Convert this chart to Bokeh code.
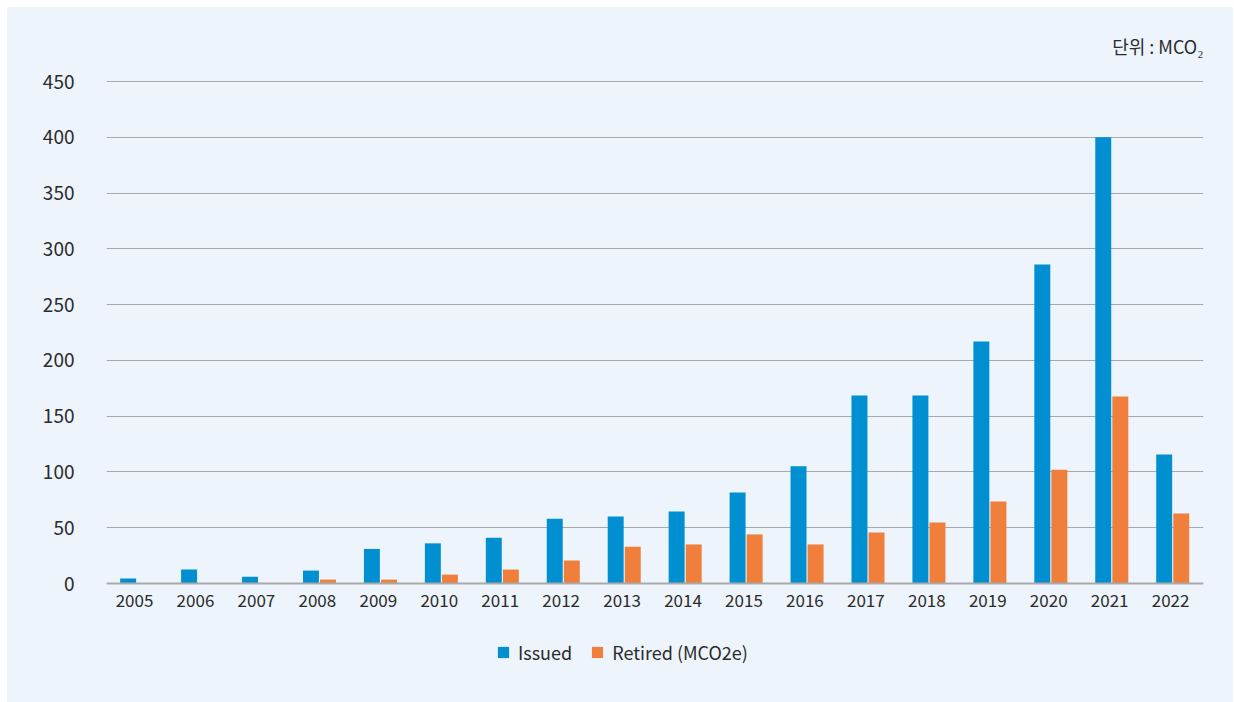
from bokeh.plotting import figure
from bokeh.models import (FactorRange, Range1d, Legend, LegendItem, Label, Span,
                          ColumnDataSource, FixedTicker)
from bokeh.transform import dodge
from bokeh.core.properties import value
from bokeh.embed import file_html
from bokeh.resources import INLINE

years = ["2005", "2006", "2007", "2008", "2009", "2010", "2011", "2012", "2013",
         "2014", "2015", "2016", "2017", "2018", "2019", "2020", "2021", "2022"]
issued = [4.5, 12.5, 6, 11.6, 31, 36, 41, 58, 60, 64.5, 81.5, 105, 168.5, 168.5,
          217, 286, 400, 115.6]
retired = [0, 0, 0, 3.5, 3.5, 8, 12.5, 20.6, 33, 35, 44, 35, 45.7, 54.7, 73.5,
           102, 167.6, 62.7]
y_ticks = [0, 50, 100, 150, 200, 250, 300, 350, 400, 450]
series_names = ["Issued", "Retired (MCO2e)"]
unit_text = "단위 : MCO₂"

BG = "#EDF4FC"
BLUE = "#0090D1"
ORANGE = "#F07F3C"
GRID = "#A9A9A9"
TXT = "#2B2B2B"
FONT = "Noto Sans CJK KR"

src = ColumnDataSource(dict(year=years, issued=issued, retired=retired))

# frame spans full height; 450 units = 502 px
PX = 502 / 450
p = figure(x_range=FactorRange(*years),
           y_range=Range1d(-119 / PX, 450 + 74 / PX),
           width=1226, height=695, output_backend="svg", toolbar_location=None,
           x_axis_location=None,
           min_border_left=99, min_border_right=30, min_border_top=0,
           min_border_bottom=0)
p.margin = (7, 1, 0, 7)
p.styles = {"background-color": BG}
p.background_fill_alpha = 0
p.border_fill_alpha = 0
p.outline_line_color = None

r1 = p.vbar(x=dodge("year", -0.145, range=p.x_range), top="issued", width=0.262,
            source=src, color=BLUE, line_color=None)
r2 = p.vbar(x=dodge("year", 0.135, range=p.x_range), top="retired", width=0.262,
            source=src, color=ORANGE, line_color=None)

# x category labels
p.text(x=dodge("year", -0.04, range=p.x_range), y=0, text="year", source=src,
       y_offset=17, text_align="center", text_baseline="middle",
       text_font=value(FONT), text_font_size="17px", text_color=TXT)

p.xgrid.grid_line_color = None
p.ygrid.grid_line_color = GRID
p.ygrid.grid_line_width = 1

p.add_layout(Span(location=0, dimension="width", line_color=GRID, line_width=2))

p.yaxis.ticker = FixedTicker(ticks=y_ticks)
p.yaxis.axis_line_color = None
p.yaxis.major_tick_line_color = None
p.yaxis.minor_tick_line_color = None
p.yaxis.major_label_standoff = 26
p.yaxis.major_label_text_font = FONT
p.yaxis.major_label_text_font_size = "19px"
p.yaxis.major_label_text_color = TXT

legend = Legend(items=[LegendItem(label=series_names[0], renderers=[r1]),
                       LegendItem(label=series_names[1], renderers=[r2])],
                orientation="horizontal", location=(390, 37))
legend.background_fill_alpha = 0
legend.border_line_color = None
legend.padding = 0
legend.margin = 0
legend.spacing = 18
legend.label_standoff = 8
legend.glyph_width = 14
legend.glyph_height = 14
legend.label_height = 14
legend.label_text_font = FONT
legend.label_text_font_size = "18px"
legend.label_text_color = TXT
p.add_layout(legend)

unit = Label(x=18, y=450 + 36 / PX, text=unit_text, text_align="right",
             text_baseline="middle", text_font=FONT,
             text_font_size="18px", text_color=TXT)
p.add_layout(unit)

open("out.html", "w").write(file_html(p, INLINE))
